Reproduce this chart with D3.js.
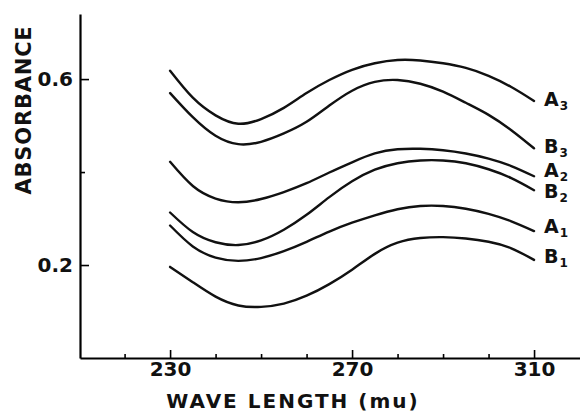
<!DOCTYPE html>
<html>
  <head>
    <title>Absorbance</title>
    <script src="https://d3js.org/d3.v7.min.js"></script>
    <style>
      body { margin: 0; background: #fff; }
      text { font-family: "DejaVu Sans", sans-serif; font-weight: bold; fill: #111; }
    </style>
  </head>
  <body>
  </body>
</html>

<script>
  var width = 580
  var height = 418

  // wave lengths sampled every 5 mu
  var waveLengths = [230, 235, 240, 245, 250, 255, 260, 265, 270, 275, 280, 285, 290, 295, 300, 305, 310]

  var seriesNames = ["A3", "B3", "A2", "B2", "A1", "B1"]

  var a3 = [0.618, 0.560, 0.522, 0.504, 0.514, 0.538, 0.570, 0.598, 0.620, 0.634, 0.641, 0.640, 0.634, 0.624, 0.607, 0.583, 0.553]
  var b3 = [0.570, 0.518, 0.478, 0.460, 0.465, 0.483, 0.508, 0.543, 0.575, 0.594, 0.598, 0.590, 0.573, 0.549, 0.523, 0.490, 0.451]
  var a2 = [0.422, 0.370, 0.343, 0.335, 0.342, 0.357, 0.376, 0.399, 0.421, 0.440, 0.449, 0.450, 0.447, 0.440, 0.429, 0.413, 0.391]
  var b2 = [0.313, 0.271, 0.249, 0.243, 0.253, 0.276, 0.308, 0.346, 0.380, 0.405, 0.419, 0.425, 0.425, 0.419, 0.406, 0.387, 0.361]
  var a1 = [0.285, 0.240, 0.216, 0.209, 0.215, 0.230, 0.250, 0.272, 0.291, 0.307, 0.320, 0.327, 0.327, 0.321, 0.310, 0.294, 0.273]
  var b1 = [0.196, 0.163, 0.132, 0.113, 0.110, 0.117, 0.134, 0.159, 0.190, 0.224, 0.248, 0.258, 0.260, 0.257, 0.250, 0.236, 0.211]

  var allSeries = [a3, b3, a2, b2, a1, b1]

  var xMajorTicks = [230, 270, 310]
  var xMinorTicks = [220, 240, 250, 260, 280, 290, 300]
  var yMajorTicks = [0.2, 0.6]
  var yMinorTicks = [0.4]

  // how far each end label sits below its curve end (px)
  var labelNudge = [5, 5, 1, 8, 2, 3]

  var x = d3.scaleLinear()
            .domain([210.2, 320.1])
            .range([80, 580])

  var y = d3.scaleLinear()
            .domain([0, 0.74])
            .range([358, 14])

  var svg = d3.select("body")
              .append("svg")
              .attr("width", width)
              .attr("height", height)

  // axes, ticks pointing inward
  svg.append("g")
     .attr("transform", "translate(0,358)")
     .call(d3.axisBottom(x).tickValues(xMajorTicks).tickSizeInner(-8).tickSizeOuter(0).tickPadding(4).tickFormat(d3.format("d")))
     .call(function(g) {
       g.select(".domain").attr("stroke-width", 2.2)
       g.selectAll(".tick line").attr("stroke-width", 1.6)
       g.selectAll("text").attr("font-size", 20).attr("font-family", "DejaVu Sans").attr("font-weight", "bold")
     })

  svg.append("g")
     .attr("transform", "translate(0,358)")
     .call(d3.axisBottom(x).tickValues(xMinorTicks).tickSizeInner(-4).tickSizeOuter(0).tickFormat(""))
     .call(function(g) {
       g.select(".domain").remove()
       g.selectAll(".tick line").attr("stroke-width", 1.6)
     })

  svg.append("g")
     .attr("transform", "translate(80,0)")
     .call(d3.axisLeft(y).tickValues(yMajorTicks).tickSizeInner(-9).tickSizeOuter(0).tickPadding(7).tickFormat(d3.format(".1f")))
     .call(function(g) {
       g.select(".domain").attr("stroke-width", 2.2)
       g.selectAll(".tick line").attr("stroke-width", 1.6)
       g.selectAll("text").attr("font-size", 20).attr("font-family", "DejaVu Sans").attr("font-weight", "bold")
     })

  svg.append("g")
     .attr("transform", "translate(80,0)")
     .call(d3.axisLeft(y).tickValues(yMinorTicks).tickSizeInner(-5).tickSizeOuter(0).tickFormat(""))
     .call(function(g) {
       g.select(".domain").remove()
       g.selectAll(".tick line").attr("stroke-width", 1.6)
     })

  // axis titles
  svg.append("text")
     .attr("transform", "translate(31,110) rotate(-90)")
     .attr("text-anchor", "middle")
     .attr("font-size", 21)
     .attr("letter-spacing", 0.8)
     .text("ABSORBANCE")

  svg.append("text")
     .attr("x", 293)
     .attr("y", 408)
     .attr("text-anchor", "middle")
     .attr("font-size", 20)
     .attr("letter-spacing", 2)
     .text("WAVE LENGTH (mu)")

  var line = d3.line()
               .x(function(d, i) { return x(waveLengths[i]) })
               .y(function(d) { return y(d) })
               .curve(d3.curveNatural)

  svg.selectAll("path.curve")
     .data(allSeries)
     .enter()
     .append("path")
     .attr("class", "curve")
     .attr("d", line)
     .attr("fill", "none")
     .attr("stroke", "#111")
     .attr("stroke-width", 2.4)
     .attr("stroke-linecap", "round")

  // end labels like A3, B1 with subscripts
  var labels = svg.selectAll("text.lab")
                  .data(allSeries)
                  .enter()
                  .append("text")
                  .attr("class", "lab")
                  .attr("x", x(310) + 10)
                  .attr("y", function(d, i) { return y(d[d.length - 1]) + labelNudge[i] })
                  .attr("font-size", 19)

  labels.append("tspan")
        .text(function(d, i) { return seriesNames[i].charAt(0) })

  labels.append("tspan")
        .attr("dx", 1)
        .attr("dy", 4)
        .attr("font-size", 12)
        .text(function(d, i) { return seriesNames[i].charAt(1) })
</script>
